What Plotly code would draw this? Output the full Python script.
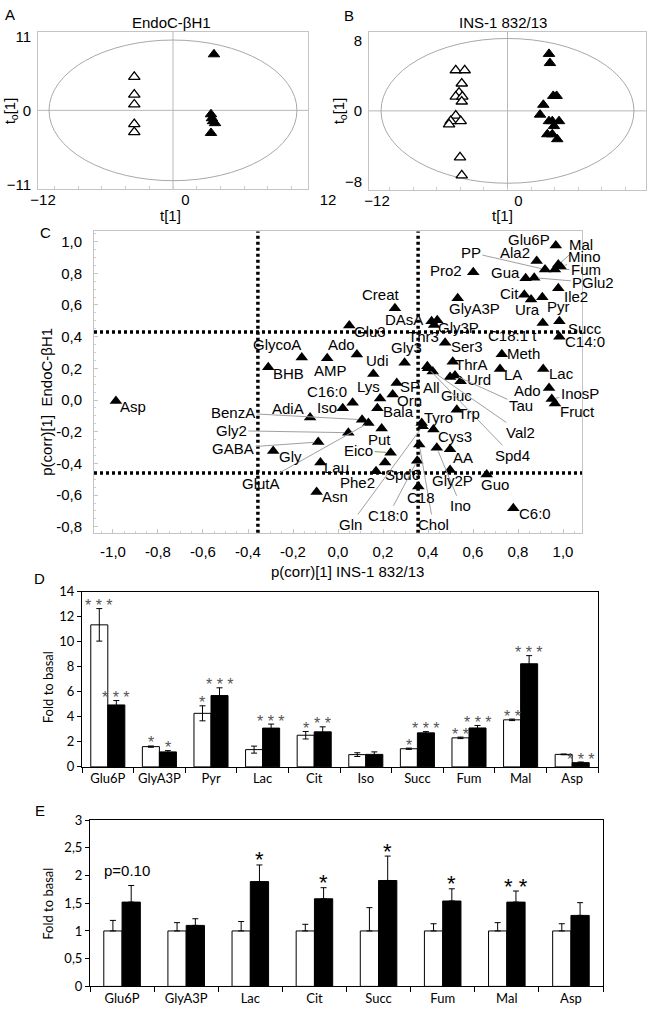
import plotly.graph_objects as go

W, H = 668, 1019
FONT = "Liberation Sans, Arial, sans-serif"
BARFONT = "Lato, Liberation Sans, sans-serif"

# ---------------- data ----------------
# Panel A: EndoC-βH1 score plot (t[1] vs to[1])
a_basal_t = [-3.26, -3.26, -3.26, -3.26, -3.26]
a_basal_to = [4.97, 2.34, 0.88, -2.05, -3.22]
a_glc_t = [3.45, 3.20, 3.28, 3.37, 3.54, 3.20]
a_glc_to = [8.33, -0.58, -1.17, -1.61, -1.90, -3.36]
a_ellipse = [10.44, 10.45]
a_t_ticks = [-12, 0, 12]
a_to_ticks = [-11, 0, 11]

# Panel B: INS-1 832/13 score plot
b_basal_t = [-4.39, -3.63, -3.88, -4.11, -4.39, -3.83, -3.88, -4.39, -4.82, -4.96, -3.97, -4.03, -3.88]
b_basal_to = [4.61, 4.61, 3.11, 2.07, 1.62, 1.62, 1.06, -0.54, -1.17, -1.54, -1.17, -5.28, -7.33]
b_glc_t = [3.52, 3.60, 3.88, 4.17, 3.04, 2.76, 3.52, 3.80, 4.37, 3.94, 3.38, 3.80, 4.22]
b_glc_to = [6.47, 5.43, 1.70, 1.70, 0.69, -0.43, -1.17, -1.17, -1.17, -1.73, -2.66, -2.66, -3.22]
b_ellipse = [10.73, 8.22]
b_t_ticks = [-12, 0, 12]
b_to_ticks = [-8, 0, 8]

# Panel C: p(corr) INS-1 832/13 (x) vs p(corr) EndoC-βH1 (y)
c_names = ["Glu6P", "Ala2", "Mal", "Mino", "Fum", "PP", "PGlu2", "Gua", "Pro2", "Ile2",
           "Cit", "Ura", "Pyr", "Creat", "GlyA3P", "DAsA", "Gly3P", "Thr3", "Glu3", "C18:1 t",
           "Succ", "C14:0", "Meth", "ThrA", "LA", "Lac", "Urd", "Gluc", "Tau", "Val2",
           "Spd4", "All", "SP", "Ser3", "Ado", "InosP", "Fruct", "Gly3", "Udi", "Ado",
           "AMP", "GlycoA", "BHB", "Lys", "Orn", "Bala", "C16:0", "Iso", "AdiA", "Asp",
           "BenzA", "GlutA", "Gly2", "GABA", "Gly", "Lau", "Put", "Eico", "Spd6", "Phe2",
           "Asn", "Gln", "Tyro", "Trp", "Cys3", "Chol", "Ino", "AA", "C18:0", "Gly2P",
           "C18", "Guo", "C6:0"]
c_pcorr_ins = [0.968, 0.883, 0.979, 0.991, 0.964, 0.920, 0.872, 0.834, 0.601, 0.979,
               0.828, 0.858, 0.908, 0.253, 0.532, 0.416, 0.441, 0.427, 0.050, 0.910,
               0.984, 0.984, 0.728, 0.510, 0.720, 0.912, 0.545, 0.498, 0.520, 0.421,
               0.400, 0.397, 0.261, 0.476, 0.938, 0.950, 0.964, 0.296, 0.157, 0.084,
               -0.048, -0.161, -0.310, 0.187, 0.243, 0.175, 0.065, 0.021, -0.124, -0.987,
               0.107, 0.135, 0.046, -0.088, -0.288, -0.078, 0.194, 0.234, 0.209, 0.169,
               -0.095, 0.376, 0.372, 0.528, 0.424, 0.361, 0.439, 0.498, 0.352, 0.498,
               0.357, 0.661, 0.779]
c_pcorr_endo = [0.975, 0.878, 0.855, 0.840, 0.824, 0.824, 0.772, 0.768, 0.807, 0.706,
                0.665, 0.634, 0.648, 0.580, 0.642, 0.497, 0.503, 0.474, 0.470, 0.486,
                0.497, 0.399, 0.289, 0.242, 0.196, 0.196, 0.118, 0.145, 0.155, 0.180,
                0.201, 0.213, 0.107, 0.362, 0.076, 0.006, -0.021, 0.236, 0.165, 0.288,
                0.263, 0.269, 0.207, 0.010, 0.035, -0.052, -0.017, -0.052, -0.110, -0.006,
                -0.124, -0.145, -0.206, -0.265, -0.321, -0.394, -0.180, -0.332, -0.394, -0.450,
                -0.580, -0.166, -0.145, -0.062, -0.186, -0.280, -0.301, -0.311, -0.383, -0.441,
                -0.545, -0.470, -0.683]
c_cut_ins = [-0.356, 0.356]
c_cut_endo = [0.43, -0.46]
c_ticks = [-1.0, -0.8, -0.6, -0.4, -0.2, 0.0, 0.2, 0.4, 0.6, 0.8, 1.0]

# Panel D
d_cats = ["Glu6P", "GlyA3P", "Pyr", "Lac", "Cit", "Iso", "Succ", "Fum", "Mal", "Asp"]
d_white = [11.35, 1.62, 4.28, 1.38, 2.53, 0.98, 1.45, 2.32, 3.76, 1.0]
d_white_err = [1.3, 0.05, 0.6, 0.28, 0.3, 0.15, 0.05, 0.06, 0.06, 0.03]
d_black = [4.95, 1.2, 5.7, 3.1, 2.8, 1.0, 2.72, 3.11, 8.24, 0.34]
d_black_err = [0.35, 0.1, 0.62, 0.32, 0.4, 0.2, 0.1, 0.2, 0.65, 0.05]
d_white_sig = ["***", "*", "*", "", "*", "", "*", "**", "**", ""]
d_black_sig = ["***", "*", "***", "***", "**", "", "***", "***", "***", "***"]

# Panel E
e_cats = ["Glu6P", "GlyA3P", "Lac", "Cit", "Succ", "Fum", "Mal", "Asp"]
e_white = [1, 1, 1, 1, 1, 1, 1, 1]
e_white_err = [0.19, 0.15, 0.17, 0.12, 0.42, 0.13, 0.15, 0.13]
e_black = [1.52, 1.10, 1.89, 1.58, 1.91, 1.54, 1.52, 1.28]
e_black_err = [0.30, 0.12, 0.30, 0.20, 0.44, 0.22, 0.20, 0.23]
e_black_sig = ["p=0.10", "", "*", "*", "*", "*", "**", ""]

# -------------- label placement for panel C (pixel offsets; 1 = leader line, 2 = green line) --------------
c_label_layout = [
    (-27, -6, 0), (-22, -8, 0), (23, -20, 1), (24, -10, 1), (31, 0, 1), (-74, -17, 1), (59, 5, 1),
    (-20, -6, 0), (-27, -2, 0), (18, 8, 0), (-15, -1, 0), (-4, 10, 0), (16, 9, 0), (-14, -14, 0),
    (17, 10, 0), (-28, -2, 0), (21, 7, 0), (-11, 12, 0), (21, 6, 0), (-30, 12, 0), (26, 7, 0),
    (26, 5, 0), (22, -1, 0), (19, 3, 0), (13, 6, 0), (18, 5, 0), (18, -2, 0), (6, 18, 0),
    (66, 30, 1), (88, 61, 1), (84, 87, 1), (4, 21, 0), (13, 3, 0), (22, 4, 0), (-22, 3, 0),
    (28, -6, 1), (23, 8, 0), (2, -15, 0), (4, -13, 0), (-15, -10, 0), (3, 12, 0), (-25, -13, 0),
    (20, 6, 0), (-12, -12, 0), (17, 6, 0), (21, 3, 0), (-26, -11, 0), (-16, -1, 0), (-22, -9, 0),
    (17, 6, 0), (-129, -7, 1), (-107, 60, 1), (-117, -2, 1), (-85, 6, 1), (17, 6, 0), (16, 5, 0),
    (-2, 11, 0), (-32, -2, 2), (17, 12, 0), (-19, 11, 0), (18, 5, 0), (-72, 98, 1), (17, -6, 0),
    (12, 4, 0), (22, 7, 0), (14, 80, 1), (24, 58, 1), (13, 8, 0), (-29, 55, 1), (2, 11, 0),
    (3, 11, 0), (8, 10, 0), (22, 5, 0),
]


def px(x):
    return x / W


def py(y):
    return 1 - y / H


fig = go.Figure()

tri_open = dict(symbol="triangle-up", size=10, color="white", line=dict(color="black", width=1.3))
tri_fill = dict(symbol="triangle-up", size=10, color="black", line=dict(color="black", width=1))
common = dict(mode="markers", showlegend=False, hoverinfo="skip")

# A
fig.add_trace(go.Scatter(x=a_basal_t, y=a_basal_to, marker=tri_open, xaxis="x", yaxis="y", **common))
fig.add_trace(go.Scatter(x=a_glc_t, y=a_glc_to, marker=tri_fill, xaxis="x", yaxis="y", **common))
fig.add_trace(go.Scatter(x=a_t_ticks, y=[0] * len(a_t_ticks), marker=dict(opacity=0),
                         xaxis="x6", yaxis="y", **common))
# B
fig.add_trace(go.Scatter(x=b_basal_t, y=b_basal_to, marker=tri_open, xaxis="x2", yaxis="y2", **common))
fig.add_trace(go.Scatter(x=b_glc_t, y=b_glc_to, marker=tri_fill, xaxis="x2", yaxis="y2", **common))
fig.add_trace(go.Scatter(x=b_t_ticks, y=[0] * len(b_t_ticks), marker=dict(opacity=0),
                         xaxis="x7", yaxis="y2", **common))
# C
fig.add_trace(go.Scatter(x=c_pcorr_ins, y=c_pcorr_endo, text=c_names,
                         marker=dict(symbol="triangle-up", size=11, color="black"),
                         xaxis="x3", yaxis="y3", **common))

# D bars
dw = 0.33
fig.add_trace(go.Bar(x=d_cats, y=d_white, width=dw, offset=-dw, xaxis="x4", yaxis="y4",
                     marker=dict(color="white", line=dict(color="black", width=1)),
                     error_y=dict(type="data", array=d_white_err, color="black", thickness=1, width=3),
                     showlegend=False, hoverinfo="skip"))
fig.add_trace(go.Bar(x=d_cats, y=d_black, width=dw, offset=0, xaxis="x4", yaxis="y4",
                     marker=dict(color="black", line=dict(color="black", width=1)),
                     error_y=dict(type="data", array=d_black_err, color="black", thickness=1, width=3),
                     showlegend=False, hoverinfo="skip"))
# E bars
ew = 0.285
fig.add_trace(go.Bar(x=e_cats, y=e_white, width=ew, offset=-ew, xaxis="x5", yaxis="y5",
                     marker=dict(color="white", line=dict(color="black", width=1)),
                     error_y=dict(type="data", symmetric=False, array=e_white_err,
                                  arrayminus=[0] * len(e_cats), color="black", thickness=1, width=3),
                     showlegend=False, hoverinfo="skip"))
fig.add_trace(go.Bar(x=e_cats, y=e_black, width=ew, offset=0, xaxis="x5", yaxis="y5",
                     marker=dict(color="black", line=dict(color="black", width=1)),
                     error_y=dict(type="data", symmetric=False, array=e_black_err,
                                  arrayminus=[0] * len(e_cats), color="black", thickness=1, width=3),
                     showlegend=False, hoverinfo="skip"))

ann = []
shapes = []

# ---- score plots ellipses / cross lines ----
for xa, ya, ell in (("x", "y", a_ellipse), ("x2", "y2", b_ellipse)):
    shapes.append(dict(type="circle", xref=xa, yref=ya, x0=-ell[0], x1=ell[0], y0=-ell[1], y1=ell[1],
                       line=dict(color="#a8a8a8", width=1), layer="below"))
    shapes.append(dict(type="line", xref=xa, yref=ya + " domain", x0=0, x1=0, y0=0, y1=1,
                       line=dict(color="#b8b8b8", width=1), layer="below"))
    shapes.append(dict(type="line", xref=xa + " domain", yref=ya, x0=0, x1=1, y0=0, y1=0,
                       line=dict(color="#b8b8b8", width=1), layer="below"))

# ---- C dotted thresholds ----
for v in c_cut_ins:
    shapes.append(dict(type="line", xref="x3", yref="y3 domain", x0=v, x1=v, y0=0, y1=1,
                       line=dict(color="black", width=3.5, dash="3px,3px")))
for v in c_cut_endo:
    shapes.append(dict(type="line", xref="x3 domain", yref="y3", x0=0, x1=1, y0=v, y1=v,
                       line=dict(color="black", width=3.5, dash="3px,3px")))

# ---- C labels ----
for name, xv, yv, (dx, dy, ln) in zip(c_names, c_pcorr_ins, c_pcorr_endo, c_label_layout):
    base = dict(x=xv, y=yv, xref="x3", yref="y3", text=name,
                font=dict(family=FONT, size=15, color="black"))
    if ln:
        base.update(showarrow=True, ax=dx, ay=dy, arrowhead=0, arrowwidth=1, standoff=4,
                    arrowcolor="#8c9c3c" if ln == 2 else "#a0a0a0")
    else:
        base.update(showarrow=False, xshift=dx, yshift=-dy)
    ann.append(base)

# ---- D significance ----
for i in range(len(d_cats)):
    for sig, val, err, sh in ((d_white_sig[i], d_white[i], d_white_err[i], -dw / 2),
                              (d_black_sig[i], d_black[i], d_black_err[i], dw / 2)):
        if sig:
            ann.append(dict(x=i + sh, y=val + err, xref="x4", yref="y4", text=" ".join(sig),
                            showarrow=False, yanchor="middle", yshift=3,
                            font=dict(family=FONT, size=16, color="#555555")))
# ---- E significance ----
for i in range(len(e_cats)):
    sig = e_black_sig[i]
    if not sig:
        continue
    top = e_black[i] + e_black_err[i]
    if sig.startswith("p"):
        ann.append(dict(x=i, y=top, xref="x5", yref="y5", text=sig, showarrow=False,
                        yanchor="middle", yshift=15, xshift=5,
                        font=dict(family=FONT, size=15, color="black")))
    else:
        ann.append(dict(x=i + ew / 2, y=top, xref="x5", yref="y5", text=" ".join(sig),
                        showarrow=False, yanchor="middle", yshift=5,
                        font=dict(family=FONT, size=22, color="black")))


# ---- panel texts ----
def txt(x, y, s, size=15, angle=0, family=FONT):
    ann.append(dict(x=px(x), y=py(y), xref="paper", yref="paper", text=s, showarrow=False,
                    xanchor="center", yanchor="middle", textangle=angle,
                    font=dict(family=family, size=size, color="black")))


txt(10, 7, "A")
txt(349, 8, "B")
txt(45, 228, "C")
txt(39, 580, "D")
txt(40, 815, "E")
txt(172, 15, "EndoC-βH1")
txt(503, 15, "INS-1 832/13")
txt(170, 211, "t[1]")
txt(502, 211, "t[1]")
txt(10, 105, "t<sub>o</sub>[1]", angle=-90)
txt(339, 105, "t<sub>o</sub>[1]", angle=-90)
txt(347, 572, "p(corr)[1] INS-1 832/13")
txt(47, 400, "p(corr)[1]\u00a0 EndoC-βH1", angle=-90)
txt(48, 690, "Fold to basal", size=13, angle=-90, family=BARFONT)
txt(48, 910, "Fold to basal", size=13, angle=-90, family=BARFONT)

# ---- axes ----
score_frame = dict(showline=True, mirror=True, linecolor="#c4c4c4", linewidth=1,
                   showgrid=False, zeroline=False)
c_ticktext = [f"{v:.1f}".replace(".", ",") for v in c_ticks]
bar_x = dict(type="category", showline=True, mirror=True, linecolor="black", linewidth=1,
             ticks="outside", tickson="boundaries", ticklen=5, tickcolor="black", tickangle=0,
             showgrid=False, zeroline=False, tickfont=dict(family=BARFONT, size=13))
bar_y = dict(showline=True, mirror=True, linecolor="black", linewidth=1,
             ticks="outside", ticklen=4, tickcolor="black",
             showgrid=False, zeroline=False, tickfont=dict(family=BARFONT, size=13))

layout = dict(
    width=W, height=H, autosize=False,
    margin=dict(l=0, r=0, t=0, b=0),
    paper_bgcolor="white", plot_bgcolor="rgba(0,0,0,0)",
    separators=", ",
    showlegend=False,
    barmode="overlay",
    font=dict(family=FONT, size=15, color="black"),
    # A
    xaxis=dict(domain=[px(38), px(308)], anchor="y", range=[-11.37, 11.37], showticklabels=False,
               ticks="inside", ticklen=3, tickcolor="#cccccc", dtick=2, **score_frame),
    yaxis=dict(domain=[py(184), py(24)], anchor="x", range=[-11.7, 11.7], tickvals=a_to_ticks,
               ticks="", ticklabelstandoff=3, tickfont=dict(size=15), **score_frame),
    xaxis6=dict(domain=[px(20), px(345)], anchor="y", range=[-13.94, 13.43], tickvals=a_t_ticks,
                showline=False, showgrid=False, zeroline=False, ticks="", tickfont=dict(size=15)),
    # B
    xaxis2=dict(domain=[px(369), px(646)], anchor="y2", range=[-11.75, 11.75], showticklabels=False,
                ticks="inside", ticklen=3, tickcolor="#cccccc", dtick=2, **score_frame),
    yaxis2=dict(domain=[py(185), py(24)], anchor="x2", range=[-9, 9], tickvals=b_to_ticks,
                ticks="", ticklabelstandoff=3, tickfont=dict(size=15), **score_frame),
    xaxis7=dict(domain=[px(350), px(668)], anchor="y2", range=[-14.29, 12.68], tickvals=b_t_ticks,
                showline=False, showgrid=False, zeroline=False, ticks="", tickfont=dict(size=15)),
    # C
    xaxis3=dict(domain=[px(94), px(582)], anchor="y3", range=[-1.0844, 1.0844],
                tickvals=c_ticks, ticktext=c_ticktext, ticks="inside", ticklen=4, tickcolor="#c4c4c4",
                minor=dict(ticks="inside", ticklen=2, tickcolor="#d0d0d0", dtick=0.05),
                ticklabelstandoff=5, tickfont=dict(size=15), **score_frame),
    yaxis3=dict(domain=[py(533), py(227)], anchor="x3", range=[-0.8367, 1.064],
                tickvals=c_ticks[1:], ticktext=c_ticktext[1:], ticks="inside", ticklen=4,
                tickcolor="#c4c4c4",
                minor=dict(ticks="inside", ticklen=2, tickcolor="#d0d0d0", dtick=0.05),
                ticklabelstandoff=8, tickfont=dict(size=15), **score_frame),
    # D
    xaxis4=dict(domain=[px(82), px(598)], anchor="y4", range=[-0.5, len(d_cats) - 0.5], **bar_x),
    yaxis4=dict(domain=[py(771), py(593)], anchor="x4", range=[0, 14], dtick=2, **bar_y),
    # E
    xaxis5=dict(domain=[px(90), px(603)], anchor="y5", range=[-0.5, len(e_cats) - 0.5], **bar_x),
    yaxis5=dict(domain=[py(994), py(825)], anchor="x5", range=[0, 3], dtick=0.5, **bar_y),
    annotations=ann,
    shapes=shapes,
)
fig.update_layout(**layout)
fig.write_html("out.html",
               config={"displayModeBar": False},
               post_script="document.body.style.margin='0';document.body.style.padding='0';"
                           "document.body.style.overflow='hidden';")
